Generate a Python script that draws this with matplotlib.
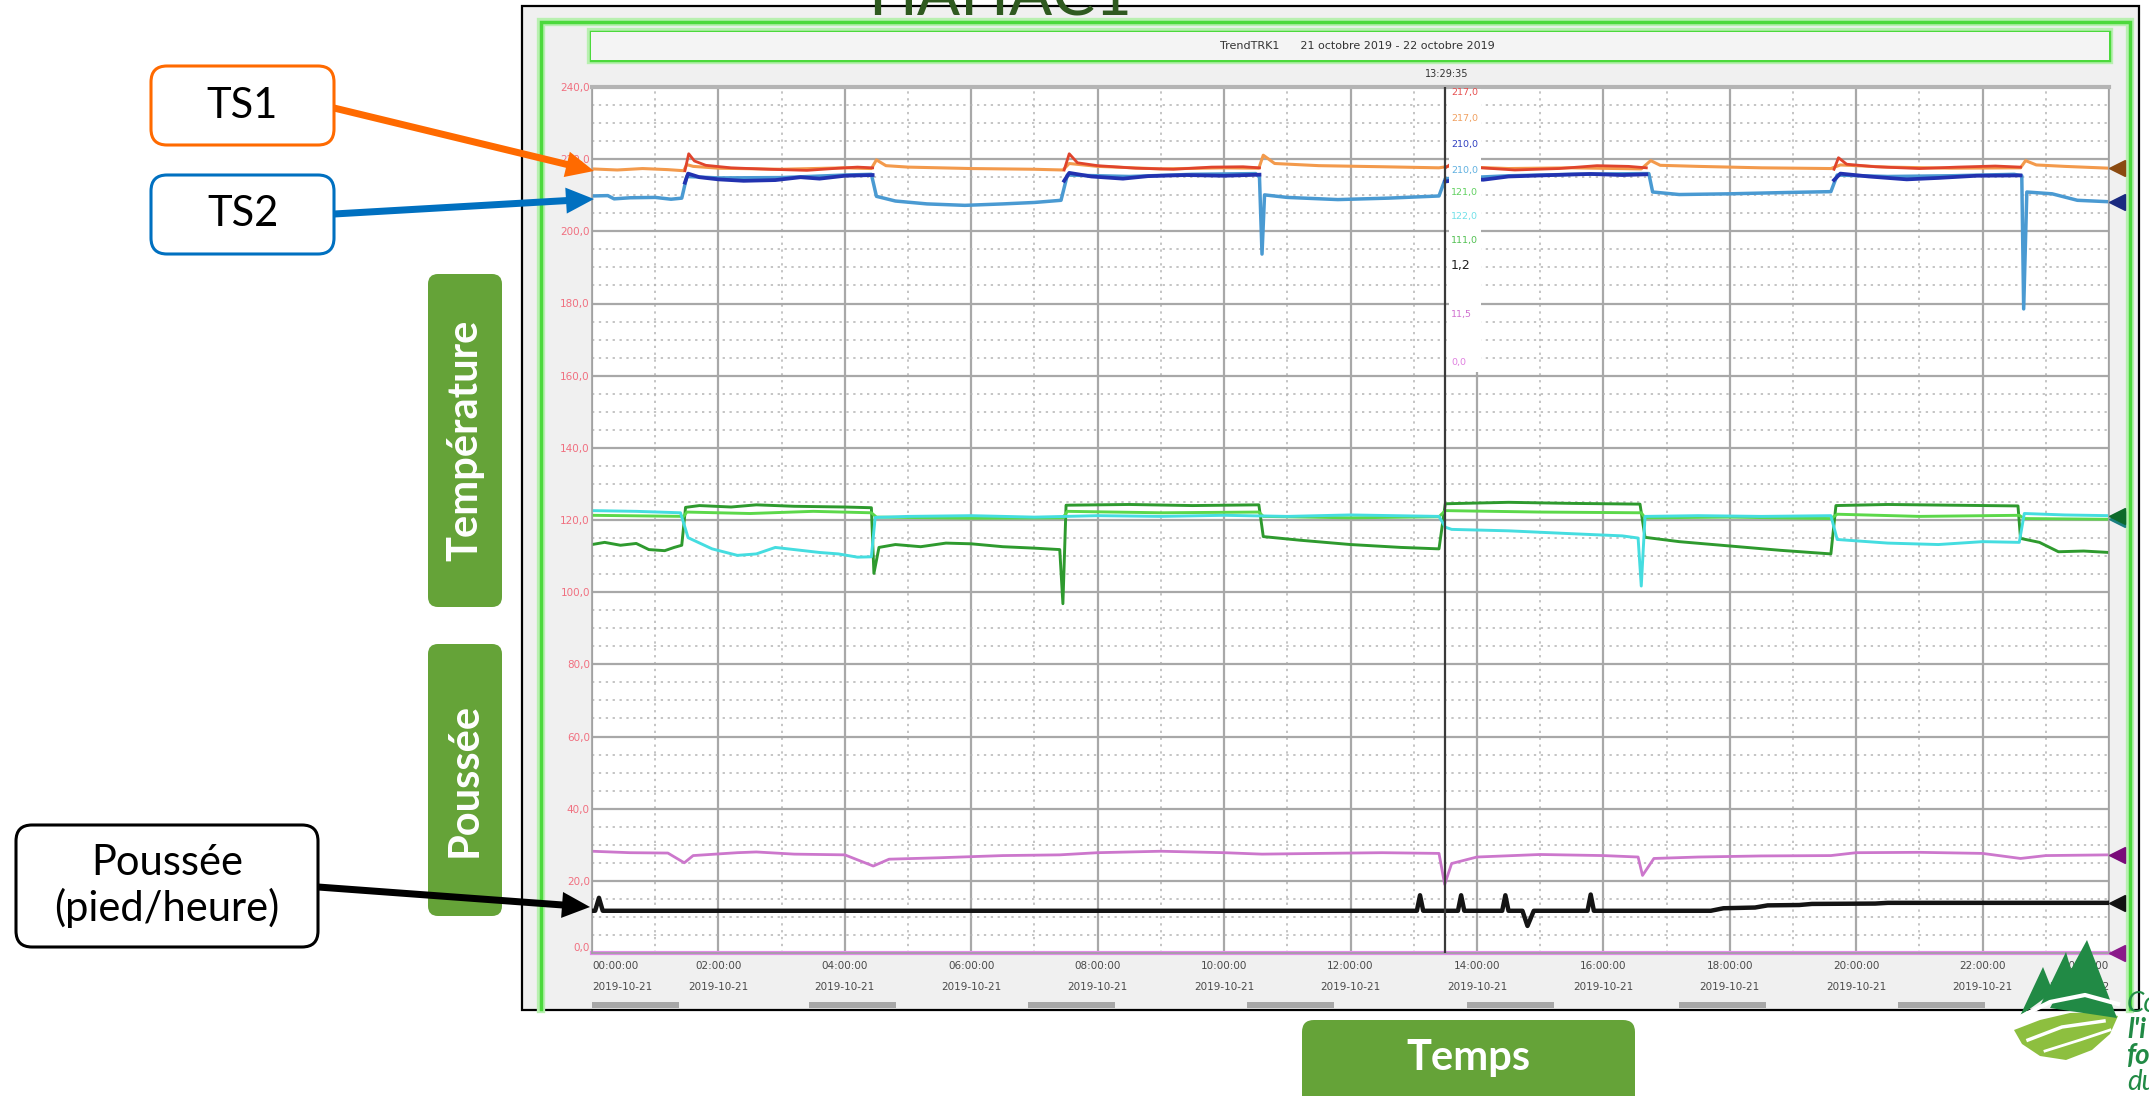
import numpy as np
import matplotlib.pyplot as plt
from matplotlib.patches import FancyBboxPatch, Rectangle, Polygon, FancyArrow
from matplotlib.ticker import MultipleLocator

plt.rcParams['font.family'] = ['Lato', 'DejaVu Sans']

nan = np.nan
W, H = 2149, 1096

# time in hours from 2019-10-21 00:00
ts1_t = [0, 0.4, 0.8, 1.2, 1.45, 1.5, 1.6, 2.0, 3.0, 4.0, 4.42, 4.5, 4.65, 5.0, 6.0, 7.0, 7.45,
         7.55, 8.0, 9.0, 10.0, 10.55, 10.62, 10.8, 11.5, 12.5, 13.4, 13.55, 14.5, 15.5, 16.6,
         16.75, 16.9, 17.5, 18.5, 19.6, 19.75, 20.5, 21.5, 22.6, 22.68, 22.85, 23.3, 24.0]
ts1_v = [217.3, 217.0, 217.4, 217.1, 216.8, 218.5, 218.0, 217.5, 217.2, 217.6, 217.4, 219.8,
         218.2, 217.8, 217.4, 217.2, 217.0, 218.8, 218.0, 217.3, 217.6, 217.5, 221.1, 218.8,
         218.2, 217.9, 217.6, 218.0, 217.4, 217.6, 217.3, 219.6, 218.3, 218.0, 217.6, 217.4,
         218.4, 217.8, 217.5, 217.6, 219.6, 218.4, 218.0, 217.5]

ts2_t = [0, 0.25, 0.35, 0.6, 1.0, 1.25, 1.42, 1.5, 2.0, 3.0, 4.0, 4.42, 4.5, 4.8, 5.3, 5.9,
         6.5, 7.0, 7.42, 7.52, 8.5, 9.5, 10.5, 10.56, 10.6, 10.64, 11.0, 11.8, 12.6, 13.4, 13.5,
         14.5, 15.5, 16.6, 16.72, 16.78, 17.2, 18.0, 19.0, 19.6, 19.7, 20.5, 21.5, 22.5, 22.62,
         22.65, 22.7, 23.1, 23.5, 24.0]
ts2_v = [209.8, 209.9, 209.0, 209.3, 209.4, 208.9, 209.2, 215.2, 214.8, 214.9, 215.6, 215.8,
         209.7, 208.4, 207.6, 207.2, 207.6, 208.0, 208.6, 215.6, 215.2, 215.8, 216.0, 215.0,
         193.7, 210.1, 209.4, 208.8, 209.2, 209.8, 214.6, 215.4, 215.8, 216.0, 216.0, 210.9,
         210.2, 210.4, 210.8, 211.0, 215.6, 215.2, 215.4, 215.8, 215.4, 178.5, 210.9, 210.4,
         208.6, 208.2]

red_t = [1.47, 1.53, 1.62, 1.8, 2.2, 2.8, 3.4, 3.9, 4.2, 4.44, nan,
         7.47, 7.55, 7.68, 8.0, 8.6, 9.2, 9.8, 10.3, 10.56, nan,
         13.5, 13.6, 13.9, 14.6, 15.3, 15.9, 16.4, 16.68, nan,
         19.65, 19.72, 19.85, 20.3, 21.0, 21.6, 22.2, 22.6]
red_v = [216.8, 221.5, 219.5, 218.3, 217.6, 217.2, 216.9, 217.5, 217.8, 217.6, nan,
         217.0, 221.5, 219.0, 218.2, 217.5, 217.2, 217.8, 217.9, 217.6, nan,
         217.6, 218.8, 217.8, 217.0, 217.4, 218.2, 218.0, 217.6, nan,
         217.2, 220.4, 218.6, 217.9, 217.4, 217.8, 218.1, 217.8]

navy_t = [1.47, 1.52, 1.7, 2.0, 2.4, 2.9, 3.3, 3.6, 4.0, 4.44, nan,
          7.47, 7.55, 7.9, 8.4, 8.8, 9.4, 10.0, 10.56, nan,
          13.5, 13.8, 14.1, 14.5, 15.2, 15.8, 16.3, 16.68, nan,
          19.65, 19.75, 20.2, 20.8, 21.3, 21.9, 22.6]
navy_v = [213.5, 216.0, 215.0, 214.4, 214.0, 214.2, 215.0, 214.6, 215.4, 215.6, nan,
          214.0, 216.2, 215.2, 214.6, 215.3, 215.6, 215.4, 215.7, nan,
          213.8, 214.6, 214.3, 215.2, 215.6, 215.9, 215.6, 215.8, nan,
          214.2, 216.0, 215.2, 214.4, 214.8, 215.4, 215.5]

cyan_t = [0, 0.7, 1.4, 1.47, 1.52, 1.9, 2.3, 2.6, 2.9, 3.2, 3.6, 3.9, 4.2, 4.42, 4.48, 5.0,
          6.0, 7.0, 8.0, 9.0, 10.0, 11.0, 12.0, 13.4, 13.5, 13.6, 14.5, 15.5, 16.3, 16.55,
          16.6, 16.66, 17.5, 18.5, 19.6, 19.7, 20.5, 21.3, 22.0, 22.58, 22.66, 23.3, 24.0]
cyan_v = [122.6, 122.4, 122.0, 118.0, 115.1, 112.0, 110.2, 110.6, 112.4, 111.8, 111.0, 110.6,
          109.7, 109.8, 120.7, 121.0, 121.2, 120.8, 121.2, 121.0, 121.3, 121.0, 121.4, 121.0,
          118.0, 117.4, 117.0, 116.2, 115.6, 115.0, 101.7, 121.0, 121.2, 121.0, 121.2, 114.6,
          113.6, 113.2, 114.0, 113.8, 121.8, 121.4, 121.2]

lime_t = [0, 1.45, 1.5, 2.5, 3.5, 4.42, 4.5, 6.0, 7.45, 7.52, 9.0, 10.55, 10.62, 12.0, 13.4,
          13.5, 15.0, 16.6, 16.66, 18.0, 19.6, 19.7, 21.0, 22.58, 22.66, 24.0]
lime_v = [121.3, 121.0, 122.2, 121.8, 122.4, 122.0, 120.8, 120.5, 120.6, 122.4, 122.0, 122.2,
          121.0, 120.6, 120.9, 122.6, 122.2, 122.0, 120.6, 120.8, 120.4, 121.6, 121.0, 121.3,
          120.4, 120.2]

dgreen_t = [0, 0.2, 0.45, 0.7, 0.9, 1.15, 1.3, 1.42, 1.48, 1.7, 2.2, 2.6, 3.2, 4.0, 4.42,
            4.46, 4.54, 4.8, 5.2, 5.6, 6.0, 6.5, 7.0, 7.4, 7.45, 7.5, 8.5, 9.5, 10.55, 10.62,
            11.2, 12.0, 12.8, 13.4, 13.5, 14.5, 15.5, 16.58, 16.66, 17.2, 18.0, 18.8, 19.6,
            19.68, 20.5, 21.5, 22.56, 22.6, 22.9, 23.2, 23.6, 24.0]
dgreen_v = [113.2, 113.8, 113.0, 113.5, 111.8, 111.5, 112.4, 113.0, 123.5, 124.0, 123.6, 124.2,
            123.8, 123.6, 123.4, 105.2, 112.4, 113.2, 112.6, 113.6, 113.4, 112.6, 112.2, 111.8,
            96.8, 124.1, 124.3, 124.0, 124.2, 115.4, 114.4, 113.2, 112.4, 112.0, 124.5, 124.9,
            124.6, 124.4, 115.2, 114.0, 112.8, 111.6, 110.6, 124.0, 124.3, 124.1, 123.9, 114.9,
            113.8, 111.2, 111.4, 111.0]

mag_t = [0, 0.6, 1.2, 1.46, 1.6, 2.3, 2.6, 3.2, 4.0, 4.45, 4.7, 5.5, 6.5, 7.4, 8.0, 9.0, 10.0,
         10.6, 11.5, 12.5, 13.4, 13.49, 13.6, 14.0, 15.0, 16.0, 16.55, 16.62, 16.8, 17.5, 18.5,
         19.6, 20.0, 21.0, 22.0, 22.6, 23.0, 24.0]
mag_v = [28.2, 27.8, 27.7, 25.0, 27.0, 27.8, 28.0, 27.4, 27.2, 24.1, 26.0, 26.4, 27.0, 27.2,
         27.8, 28.2, 27.8, 27.4, 27.6, 27.8, 27.6, 19.0, 24.8, 26.6, 27.3, 27.0, 26.6, 21.5,
         26.2, 26.6, 26.9, 27.0, 27.8, 27.9, 27.6, 26.2, 27.0, 27.2]

thrust_t = [0, 0.05, 0.11, 0.17, 13.05, 13.1, 13.15, 13.7, 13.75, 13.8, 14.4, 14.45, 14.5,
            14.72, 14.8, 14.9, 15.75, 15.8, 15.85, 17.7, 17.9, 18.4, 18.6, 19.1, 19.3, 20.3,
            20.5, 24.0]
thrust_v = [11.7, 11.7, 15.3, 11.7, 11.7, 16.0, 11.7, 11.7, 16.0, 11.7, 11.7, 16.0, 11.7,
            11.7, 7.5, 11.7, 11.7, 16.2, 11.7, 11.7, 12.4, 12.6, 13.2, 13.3, 13.6, 13.7,
            13.9, 13.9]

base_t = [0, 24.0]
base_v = [0, 0]

cursor_h = 13 + 29 / 60 + 35 / 3600
cursor_label = "13:29:35"
readouts = ["217,0", "217,0", "210,0", "210,0", "121,0", "122,0", "111,0", "1,2", "11,5", "0,0"]
readout_colors = ['#e65050', '#f0a060', '#3040c0', '#60b0e0', '#60d060', '#70e0e8',
                  '#50c050', '#202020', '#d070d0', '#e080e0']
readout_y = [93, 118, 145, 170, 193, 217, 241, 265, 314, 362]

hour_ticks = list(range(0, 25, 2))
hour_labels = [f"{h % 24:02d}:00:00\n2019-10-{21 + h // 24}" for h in hour_ticks]
y_ticks = list(range(0, 241, 20))

fig = plt.figure(figsize=(W / 100, H / 100), dpi=100, facecolor='white')

# background layer in pixel coordinates
bg = fig.add_axes([0, 0, 1, 1], zorder=0)
bg.set_xlim(0, W)
bg.set_ylim(H, 0)
bg.axis('off')
bg.add_patch(Rectangle((522, 6), 1617, 1004, fc='#f0f0f0', ec='black', lw=1.6))
for lw, c in [(6, '#b8f0b0'), (2.5, '#4cd93c')]:
    bg.plot([541, 541, 2130, 2130], [1009, 22, 22, 1009], color=c, lw=lw, solid_joinstyle='miter')
    bg.add_patch(Rectangle((591, 32), 1518, 28, fc='none', ec=c, lw=lw))
bg.add_patch(Rectangle((591, 32), 1518, 28, fc='#f4f4f4', ec='none'))
bg.text(1357, 46, "TrendTRK1      21 octobre 2019 - 22 octobre 2019", ha='center', va='center',
        fontsize=8, color='#333333', family='DejaVu Sans')
bg.text(1447, 74, cursor_label, ha='center', va='center', fontsize=7, color='#333333',
        family='DejaVu Sans')
for x0 in [592, 809, 1028, 1247, 1467, 1679, 1898]:
    bg.add_patch(Rectangle((x0, 1002), 87, 6, fc='#a8a8a8', ec='none'))

# trend chart
ax = fig.add_axes([592 / W, (H - 953) / H, (2109 - 592) / W, (953 - 87) / H], zorder=1)
ax.set_facecolor('white')
ax.set_xlim(0, 24)
ax.set_ylim(0, 240)
ax.xaxis.set_major_locator(MultipleLocator(2))
ax.xaxis.set_minor_locator(MultipleLocator(1))
ax.yaxis.set_major_locator(MultipleLocator(20))
ax.yaxis.set_minor_locator(MultipleLocator(5))
ax.grid(which='major', color='#a8a8a8', lw=1.6)
ax.grid(which='minor', color='#b4b4b4', lw=1.1, ls=(0, (1.5, 3)))
ax.set_axisbelow(True)
for s in ax.spines.values():
    s.set_color('#a0a0a0')
    s.set_linewidth(1.2)
ax.spines['top'].set_linewidth(3)
ax.spines['top'].set_color('#b4b4b4')

ax.set_xticks(hour_ticks)
ax.set_xticklabels(hour_labels, fontsize=7.5, color='#4a4a4a', family='DejaVu Sans')
ax.set_yticks(y_ticks)
ax.set_yticklabels([f"{v:.1f}".replace('.', ',') for v in y_ticks], fontsize=7.5,
                   color='#f07080', family='DejaVu Sans')
ax.tick_params(which='both', length=0)
ax.tick_params(axis='x', pad=6)
ax.tick_params(axis='y', pad=1.5)
xl = ax.get_xticklabels()
for lbl in xl:
    lbl.set_linespacing(2.3)
xl[0].set_ha('left')
xl[-1].set_ha('right')
ax.get_yticklabels()[0].set_va('bottom')

ax.plot(base_t, base_v, color='#e08ce8', lw=3, clip_on=False, zorder=2)
ax.plot(mag_t, mag_v, color='#cc77cc', lw=2.0, zorder=2)
ax.plot(thrust_t, thrust_v, color='#141414', lw=3.2, zorder=3)
ax.plot(dgreen_t, dgreen_v, color='#2e9a2e', lw=2.1, zorder=2)
ax.plot(lime_t, lime_v, color='#5cd84a', lw=2.1, zorder=2)
ax.plot(cyan_t, cyan_v, color='#45dde0', lw=2.1, zorder=2)
ax.plot(ts2_t, ts2_v, color='#4a9ad2', lw=2.5, zorder=2)
ax.plot(ts1_t, ts1_v, color='#f39a4c', lw=2.2, zorder=2)
ax.plot(navy_t, navy_v, color='#2232b0', lw=2.7, zorder=2)
ax.plot(red_t, red_v, color='#e0442c', lw=2.0, zorder=2)
ax.axvline(cursor_h, color='#3a3a3a', lw=1.6, zorder=4)

x_end = ts1_t[-1] + 0.13
for vals, c in [(ts1_v, '#8a4a10'), (ts2_v, '#1a2a80'), (lime_v, '#1a8080'),
                (cyan_v, '#0d6b2a'), (mag_v, '#7a0a7a'), (thrust_v, '#111111'),
                (base_v, '#8a1a8a')]:
    ax.plot([x_end], [vals[-1]], marker='<', ms=12, color=c, clip_on=False, zorder=5)

# overlay layer: readouts, callouts, labels, logo
fg = fig.add_axes([0, 0, 1, 1], zorder=5)
fg.set_xlim(0, W)
fg.set_ylim(H, 0)
fg.axis('off')
fg.patch.set_alpha(0)

fg.add_patch(Rectangle((1449, 89), 32, 283, fc='white', ec='none'))
for txt, c, y in zip(readouts, readout_colors, readout_y):
    fg.text(1451, y, txt, color=c, fontsize=9 if txt == "1,2" else 6.8, va='center',
            ha='left', family='DejaVu Sans')

fg.text(1000, 15, "HAHAC1", ha='center', va='baseline', fontsize=46, color='#2f5a20')

green = '#65a338'
fg.add_patch(FancyBboxPatch((428, 274), 74, 333, boxstyle="round,pad=0,rounding_size=10",
                            fc=green, ec='none'))
fg.text(465, 440, "Température", rotation=90, ha='center', va='center', fontsize=30,
        fontweight='bold', color='white')
fg.add_patch(FancyBboxPatch((428, 644), 74, 272, boxstyle="round,pad=0,rounding_size=10",
                            fc=green, ec='none'))
fg.text(465, 780, "Poussée", rotation=90, ha='center', va='center', fontsize=30,
        fontweight='bold', color='white')
fg.add_patch(FancyBboxPatch((1302, 1020), 333, 100, boxstyle="round,pad=0,rounding_size=12",
                            fc=green, ec='none', clip_on=False))
fg.text(1468, 1058, "Temps", ha='center', va='center', fontsize=30, fontweight='bold',
        color='white')

callouts = [((151, 66), 183, 79, '#ff6a00', "TS1"),
            ((151, 175), 183, 79, '#0070c0', "TS2"),
            ((16, 825), 302, 122, '#000000', "Poussée\n(pied/heure)")]
for (x0, y0), w, h, c, txt in callouts:
    fg.add_patch(FancyBboxPatch((x0, y0), w, h, boxstyle="round,pad=0,rounding_size=16",
                                fc='white', ec=c, lw=2.2))
    fg.text(x0 + w / 2, y0 + h / 2, txt, ha='center', va='center', fontsize=30, color='black')

arrows = [((334, 108), (594, 171), '#ff6a00'),
          ((334, 214), (594, 199), '#0070c0'),
          ((318, 887), (590, 907), '#000000')]
for (x0, y0), (x1, y1), c in arrows:
    fg.add_patch(FancyArrow(x0, y0, x1 - x0, y1 - y0, width=7, head_width=26, head_length=28,
                            length_includes_head=True, fc=c, ec='none'))

# logo
dark, light = '#218a45', '#8dbf3f'
fg.add_patch(Polygon([(2014, 1030), (2040, 1020), (2070, 1013), (2100, 1012), (2118, 1016),
                      (2110, 1034), (2092, 1050), (2066, 1060), (2040, 1056), (2022, 1044)],
                     fc=light, ec='none'))
fg.add_patch(Polygon([(2087, 940), (2117, 1018), (2050, 1008)], fc=dark, ec='none'))
fg.add_patch(Polygon([(2066, 952), (2079, 997), (2040, 1006)], fc=dark, ec='none'))
fg.add_patch(Polygon([(2043, 967), (2053, 992), (2020, 1016)], fc=dark, ec='none'))
fg.plot([2018, 2050, 2085, 2118], [1018, 1002, 995, 1004], color='white', lw=3)
fg.plot([2028, 2062, 2104], [1040, 1027, 1021], color='white', lw=2.5)
fg.plot([2045, 2080, 2110], [1051, 1040, 1030], color='white', lw=2)
for y, t, st, wt in [(1012, "Co", 'italic', 'normal'), (1038, "l'i", 'italic', 'bold'),
                     (1064, "fo", 'italic', 'bold'), (1090, "du", 'italic', 'normal')]:
    fg.text(2127, y, t, ha='left', va='baseline', fontsize=20, style=st, fontweight=wt,
            color=dark)

fig.savefig('out.png', dpi=100)
